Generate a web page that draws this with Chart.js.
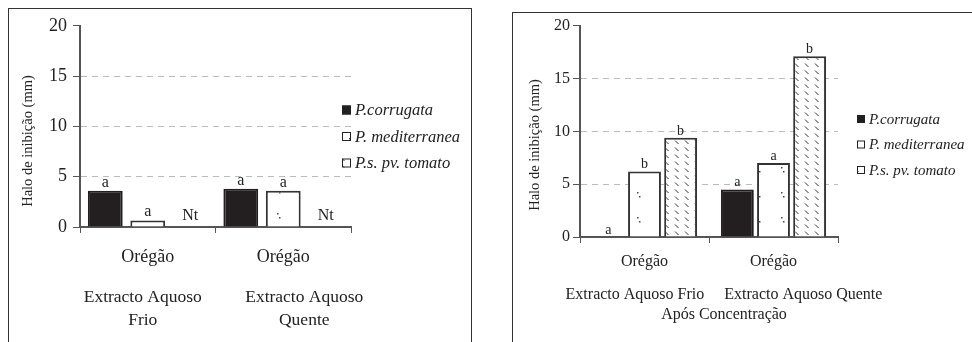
<!DOCTYPE html>
<html>
<head>
<meta charset="utf-8">
<script src="https://cdn.jsdelivr.net/npm/chart.js@4.4.1/dist/chart.umd.min.js"></script>
<style>
  html, body { margin: 0; padding: 0; background: #fff; width: 972px; height: 342px; overflow: hidden; }
  .panel { position: absolute; border: 1px solid #333; box-sizing: border-box; }
  #p1 { left: 8px; top: 8px; width: 464px; height: 400px; }
  #p2 { left: 512px; top: 12px; width: 480px; height: 400px; }
  canvas { position: absolute; left: 0; top: 0; }
</style>
</head>
<body>
<div class="panel" id="p1"><canvas id="c1" width="462" height="334"></canvas></div>
<div class="panel" id="p2"><canvas id="c2" width="459" height="329"></canvas></div>
<script>
// Halo de inibição (mm) per strain, oregano aqueous extracts.
const species = ["P.corrugata", "P. mediterranea", "P.s. pv. tomato"];
const categories = ["Orégão", "Orégão"];
const yTitle = "Halo de inibição (mm)";

// left: cold / hot aqueous extract
const aqCorrugata = [3.6, 3.8];
const aqMediterranea = [0.65, 3.6];
const aqTomato = [null, null]; // Nt (not tested)
const aqLetters = [["a", "a"], ["a", "a"], ["Nt", "Nt"]];
const aqGroups = [["Extracto Aquoso", "Frio"], ["Extracto Aquoso", "Quente"]];

// right: after concentration
const concCorrugata = [0, 4.5];
const concMediterranea = [6.2, 7.0];
const concTomato = [9.4, 17.1];
const concLetters = [["a", "a"], ["b", "a"], ["b", "b"]];
const concCaption = ["Extracto Aquoso Frio     Extracto Aquoso Quente", "Após Concentração"];

const SERIF = "'Liberation Serif', 'Times New Roman', serif";
Chart.defaults.color = "#222";
Chart.defaults.font.family = SERIF;

function pattern(w, h, draw) {
  const c = document.createElement("canvas");
  c.width = w; c.height = h;
  const g = c.getContext("2d");
  g.fillStyle = "#fff";
  g.fillRect(0, 0, w, h);
  draw(g);
  return g.createPattern(c, "repeat");
}
const dotted = pattern(24, 25, (g) => {
  g.fillStyle = "#444";
  g.fillRect(4, 4, 1.5, 1.5);
  g.fillRect(6, 8, 1.5, 1.5);
});
const hatched = pattern(10, 7, (g) => {
  g.strokeStyle = "#333";
  g.lineWidth = 1;
  g.beginPath();
  g.moveTo(2, 1.5); g.lineTo(5.5, 5);
  g.stroke();
});
const fills = ["#231f20", dotted, hatched];

// letters above bars, lower category labels, y title and legend
const paperPlugin = {
  id: "paper",
  afterDatasetsDraw(chart, args, o) {
    const ctx = chart.ctx;
    const xs = chart.scales.x, ys = chart.scales.y;
    ctx.save();
    ctx.fillStyle = "#222";

    ctx.save();
    ctx.font = o.titleFont;
    ctx.translate(o.titleX, o.titleY);
    ctx.rotate(-Math.PI / 2);
    ctx.textAlign = "center";
    ctx.textBaseline = "middle";
    ctx.fillText(yTitle, 0, 0);
    ctx.restore();

    ctx.font = o.letterFont;
    ctx.textAlign = "center";
    ctx.textBaseline = "alphabetic";
    chart.data.datasets.forEach((ds, d) => {
      chart.getDatasetMeta(d).data.forEach((bar, i) => {
        const y = ds.data[i] == null ? ys.getPixelForValue(0) - o.nullGap : bar.y - o.gap;
        ctx.fillText(o.letters[d][i], bar.x, y);
      });
    });

    ctx.font = o.groupFont;
    ctx.textBaseline = "middle";
    if (o.groups) {
      o.groups.forEach((lines, i) => {
        const x = xs.getPixelForValue(i) + o.groupShift[i];
        lines.forEach((s, k) => ctx.fillText(s, x, o.groupY[k]));
      });
    }
    if (o.caption) {
      const cx = (chart.chartArea.left + chart.chartArea.right) / 2 + o.captionShift;
      o.caption.forEach((s, k) => ctx.fillText(s, cx, o.captionY[k]));
    }

    ctx.font = o.legendFont;
    ctx.textAlign = "left";
    chart.data.datasets.forEach((ds, d) => {
      const cy = o.legendY + d * o.legendGap;
      const b = o.legendBox;
      ctx.fillStyle = ds.backgroundColor;
      ctx.fillRect(o.legendX, cy - b / 2, b, b);
      ctx.strokeStyle = "#222";
      ctx.lineWidth = 1;
      ctx.strokeRect(o.legendX + 0.5, cy - b / 2 + 0.5, b - 1, b - 1);
      ctx.fillStyle = "#222";
      ctx.fillText(ds.label, o.legendX + b + 4, cy + 1);
    });
    ctx.restore();
  },
};

function makeChart(id, series, cfg) {
  return new Chart(document.getElementById(id), {
    type: "bar",
    data: {
      labels: categories,
      datasets: series.map((vals, d) => ({
        label: species[d],
        data: vals,
        backgroundColor: fills[d],
        borderColor: d === 0 ? "#231f20" : "#333",
        borderWidth: 2,
        borderSkipped: "bottom",
        categoryPercentage: cfg.catPct,
        barPercentage: cfg.barPct,
      })),
    },
    options: {
      responsive: false,
      animation: false,
      devicePixelRatio: 1,
      layout: { padding: cfg.padding },
      plugins: {
        legend: { display: false },
        tooltip: { enabled: false },
        paper: cfg.paper,
      },
      scales: {
        x: {
          afterFit: (s) => { s.height = cfg.xHeight; },
          grid: { drawOnChartArea: false, drawTicks: true, tickLength: 6, tickColor: "#555", offset: true },
          border: { color: "#555", width: 2 },
          ticks: { font: { size: cfg.tickSize }, padding: cfg.xPad, color: "#222", maxRotation: 0 },
        },
        y: {
          min: 0,
          max: 20,
          afterFit: (s) => { s.width = cfg.yWidth; },
          grid: {
            color: (c) => ([5, 10, 15].includes(c.tick && c.tick.value) ? "#bbb" : "rgba(0,0,0,0)"),
            tickColor: "#555",
            tickLength: 7,
            lineWidth: 1,
          },
          border: { color: "#555", width: 2, dash: [6, 5] },
          ticks: { stepSize: 5, font: { size: cfg.tickSize }, padding: cfg.yPad, color: "#222" },
        },
      },
    },
    plugins: [paperPlugin],
  });
}

makeChart("c1", [aqCorrugata, aqMediterranea, aqTomato], {
  catPct: 0.94, barPct: 0.82,
  padding: { top: 16, right: 120, bottom: 0, left: 0 },
  xHeight: 116, yWidth: 71, tickSize: 18, xPad: 13, yPad: 6,
  paper: {
    titleX: 19, titleY: 132, titleFont: "14.5px " + SERIF,
    letters: aqLetters, letterFont: "16px " + SERIF, gap: 4, nullGap: 7,
    groups: aqGroups, groupShift: [-5, 21], groupY: [288, 311], groupFont: "17.5px " + SERIF,
    legendX: 333, legendY: 101, legendGap: 26.5, legendBox: 9, legendFont: "italic 16.5px " + SERIF,
  },
});

makeChart("c2", [concCorrugata, concMediterranea, concTomato], {
  catPct: 0.84, barPct: 0.91,
  padding: { top: 12, right: 134, bottom: 0, left: 0 },
  xHeight: 105, yWidth: 67, tickSize: 16, xPad: 9, yPad: 3,
  paper: {
    titleX: 22, titleY: 132, titleFont: "14.5px " + SERIF,
    letters: concLetters, letterFont: "14px " + SERIF, gap: 3, nullGap: 4,
    caption: concCaption, captionShift: 15, captionY: [282, 302], groupFont: "16px " + SERIF,
    legendX: 344, legendY: 106, legendGap: 25.5, legendBox: 8, legendFont: "italic 15px " + SERIF,
  },
});
</script>
</body>
</html>
